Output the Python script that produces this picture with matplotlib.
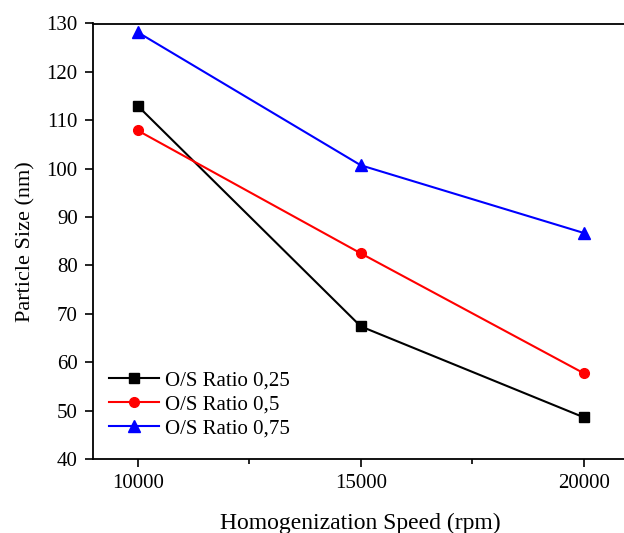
from matplotlib import pyplot as plt
import numpy as np

plt.rcParams['font.family'] = ['Liberation Serif', 'DejaVu Serif']

speed = [10000, 15000, 20000]
ratio_025 = [113.0, 67.4, 48.6]
ratio_05 = [107.9, 82.5, 57.7]
ratio_075 = [128.2, 100.7, 86.7]

fig = plt.figure(figsize=(6.24, 5.33), dpi=100)
# right spine sits just past the image edge, as in the original
ax = fig.add_axes([93/624, 1-459/533, (628.6-93)/624, (459-23.5)/533])

ax.plot(speed, ratio_025, color='black', marker='s', markersize=6.5, lw=1.5, label='O/S Ratio 0,25')
ax.plot(speed, ratio_05, color='red', marker='o', markersize=7, lw=1.5, label='O/S Ratio 0,5')
ax.plot(speed, ratio_075, color='blue', marker='^', markersize=8, lw=1.5, label='O/S Ratio 0,75')

ax.set_xlim(9000, 21000)
ax.set_ylim(40, 130)
ax.set_xticks([10000, 15000, 20000])
ax.set_xticks([12500, 17500], minor=True)
ax.set_yticks(np.arange(40, 131, 10))
ax.tick_params(which='major', direction='out', length=6, width=1.2, labelsize=15, pad=5)
ax.tick_params(which='minor', direction='out', length=3.5, width=1.2)
for s in ax.spines.values():
    s.set_linewidth(1.3)

ax.set_xlabel("Homogenization Speed (rpm)", fontsize=17, labelpad=14)
ax.set_ylabel("Particle Size (nm)", fontsize=16, labelpad=8)

ax.legend(loc='lower left', bbox_to_anchor=(-0.005, 0.005), frameon=False, fontsize=15,
          handlelength=2.4, handletextpad=0.3, labelspacing=0.2, borderaxespad=0.5)

fig.savefig("out.png", dpi=100)
